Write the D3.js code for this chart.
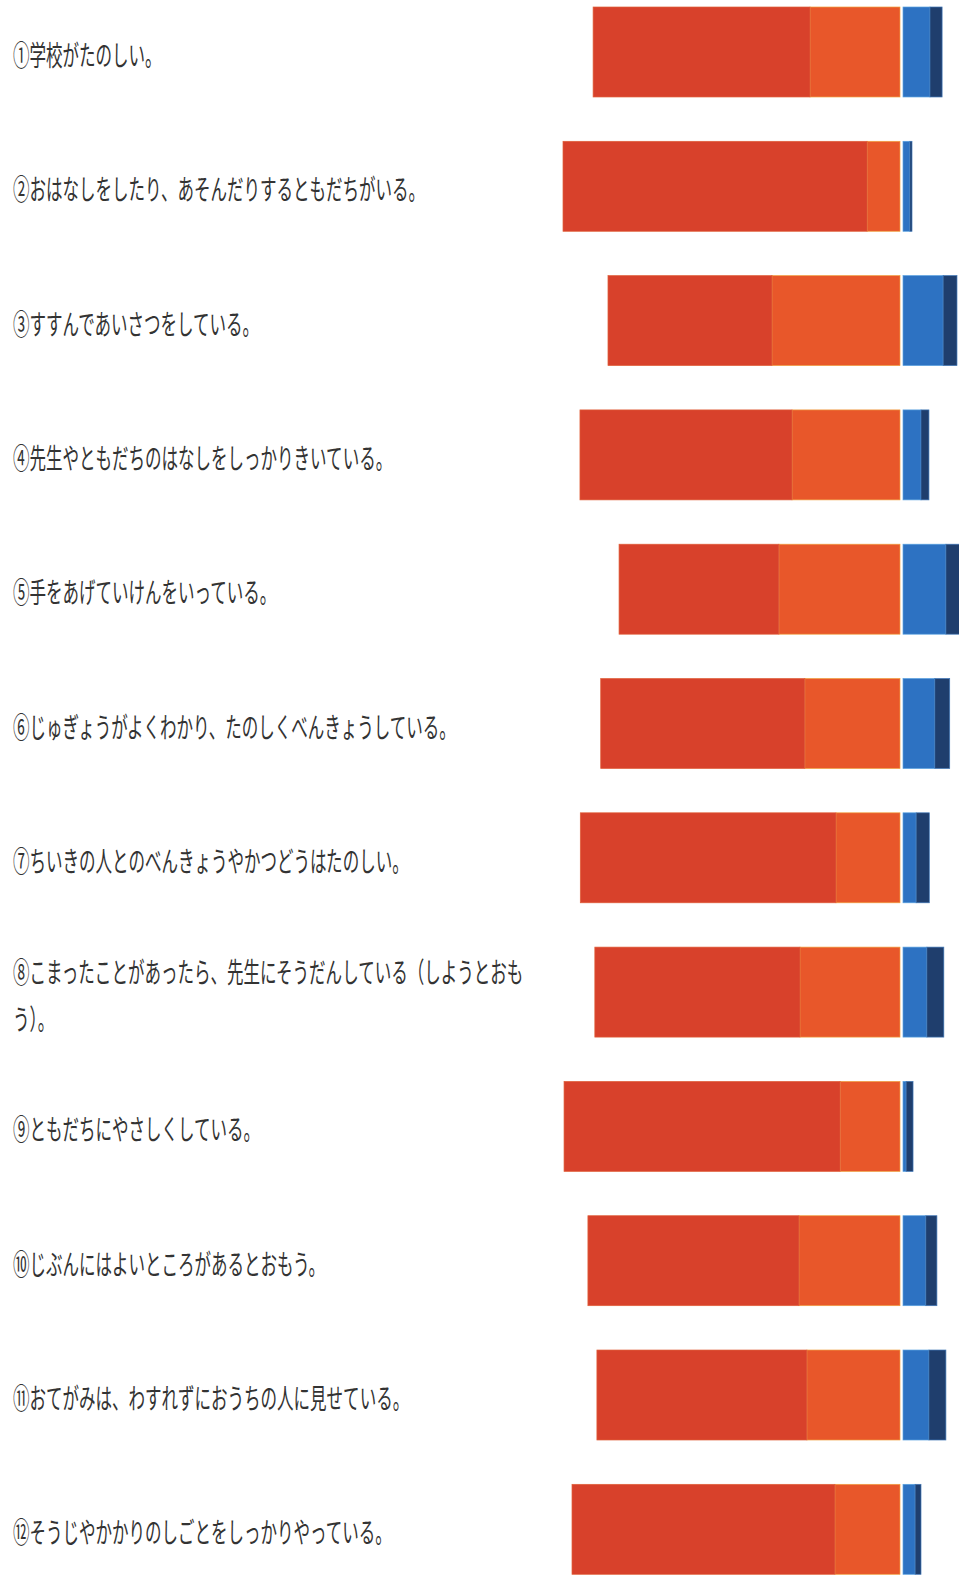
<!DOCTYPE html>
<html>
<head>
<meta charset="utf-8">
<script src="https://cdnjs.cloudflare.com/ajax/libs/d3/7.8.5/d3.min.js"></script>
<style>
	html, body { margin: 0; padding: 0; background: #fff; }
	svg { display: block; }
</style>
</head>
<body>
<div id="chart"></div>
<script>

// question labels (one array entry per line)
var labels = [
	['①学校がたのしい。'],
	['②おはなしをしたり、あそんだりするともだちがいる。'],
	['③すすんであいさつをしている。'],
	['④先生やともだちのはなしをしっかりきいている。'],
	['⑤手をあげていけんをいっている。'],
	['⑥じゅぎょうがよくわかり、たのしくべんきょうしている。'],
	['⑦ちいきの人とのべんきょうやかつどうはたのしい。'],
	['⑧こまったことがあったら、先生にそうだんしている（しようとおも', 'う）。'],
	['⑨ともだちにやさしくしている。'],
	['⑩じぶんにはよいところがあるとおもう。'],
	['⑪おてがみは、わすれずにおうちの人に見せている。'],
	['⑫そうじやかかりのしごとをしっかりやっている。']
];

// percentages
var yesStrong = [62.7, 87.9, 47.4, 61.3, 46.2, 59.0, 73.9, 59.3, 79.8, 61.0, 60.7, 76.0];
var yes       = [26.0,  9.5, 37.0, 31.2, 35.0, 27.5, 18.5, 28.9, 17.3, 29.2, 26.9, 18.8];
var no        = [ 7.8,  2.0, 11.6,  5.2, 12.4,  9.2,  3.8,  6.9,  0.9,  6.6,  7.5,  3.5];
var noStrong  = [ 3.5,  0.6,  4.0,  2.3,  6.4,  4.3,  3.8,  4.9,  2.0,  3.2,  4.9,  1.7];

var W = 959;
var H = 1577;
var center = 900;
var gap = 3;
var span = 346;

var colors = { yesStrong: '#d8412b', yes: '#e8572a', no: '#2d72c2', noStrong: '#1f3e6d' };
var strokes = { yesStrong: '#e0603a', yes: '#f0a040', no: '#5aa2e0', noStrong: '#3f76b6' };

var svg = d3.select('#chart').append('svg').attr('width', W).attr('height', H);

var len = d3.scaleLinear().domain([0, 100]).range([0, span]);

var y = d3.scaleBand()
	.domain(d3.range(labels.length))
	.range([7, 7 + 11 * 134.3 + 90])
	.paddingInner(0.33)
	.paddingOuter(0);

var rows = labels.map(function(l, i) {
	return { i: i, yesStrong: yesStrong[i], yes: yes[i], no: no[i], noStrong: noStrong[i] };
});

var segments = [];
rows.forEach(function(d) {
	// left side grows from the center leftwards: orange next to center, red outside
	segments.push({ i: d.i, key: 'yes', x0: center - len(d.yes), x1: center });
	segments.push({ i: d.i, key: 'yesStrong', x0: center - len(d.yes) - len(d.yesStrong), x1: center - len(d.yes) });
	// right side grows rightwards: blue next to center, navy outside
	segments.push({ i: d.i, key: 'no', x0: center + gap, x1: center + gap + len(d.no) });
	segments.push({ i: d.i, key: 'noStrong', x0: center + gap + len(d.no), x1: center + gap + len(d.no) + len(d.noStrong) });
});

svg.append('g').selectAll('rect')
	.data(segments)
	.enter()
	.append('rect')
	.attr('x', function(d) { return d.x0; })
	.attr('y', function(d) { return y(d.i); })
	.attr('width', function(d) { return Math.max(0, d.x1 - d.x0); })
	.attr('height', y.bandwidth())
	.style('fill', function(d) { return colors[d.key]; })
	.style('stroke', function(d) { return strokes[d.key]; })
	.style('stroke-width', 0.7);

// labels, tall narrow gothic look
var lineH = 47;
var tg = svg.append('g');
labels.forEach(function(lines, i) {
	var cy = y(i) + y.bandwidth() / 2 + 4 - (lines.length - 1) * lineH / 2;
	var g = tg.append('g').attr('transform', 'translate(13,' + cy + ') scale(0.59,1)');
	lines.forEach(function(t, k) {
		g.append('text')
			.attr('x', 0)
			.attr('y', k * lineH)
			.attr('dy', '0.36em')
			.style('font-family', '"Noto Sans CJK JP", "Noto Sans CJK SC", sans-serif')
			.style('font-size', '28px')
			.style('fill', '#333')
			.text(t);
	});
});

</script>
</body>
</html>
